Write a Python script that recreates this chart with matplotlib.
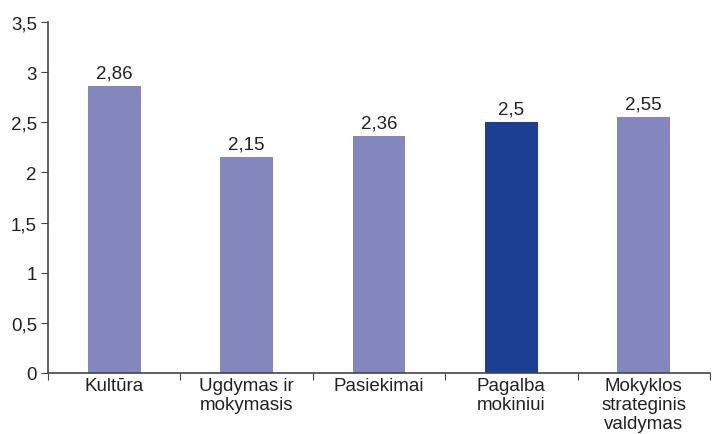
import matplotlib
matplotlib.use("Agg")
import matplotlib.pyplot as plt
import numpy as np

categories = ["Kultūra", "Ugdymas ir\nmokymasis", "Pasiekimai", "Pagalba\nmokiniui", "Mokyklos\nstrateginis\nvaldymas"]
values = [2.86, 2.15, 2.36, 2.5, 2.55]
labels = ["2,86", "2,15", "2,36", "2,5", "2,55"]
colors = ["#8387BE", "#8387BE", "#8387BE", "#1C3F94", "#8387BE"]
yticks = [0, 0.5, 1, 1.5, 2, 2.5, 3, 3.5]
yticklabels = ["0", "0,5", "1", "1,5", "2", "2,5", "3", "3,5"]

plt.rcParams['font.family'] = ['Liberation Sans', 'DejaVu Sans']
fs = 13.5
fig = plt.figure(figsize=(7.15, 4.35), dpi=100)
ax = fig.add_axes([48/715, 61/435, 662/715, 351/435])

x = np.arange(len(categories))
ax.bar(x, values, width=0.4, color=colors)
for xi, v, l in zip(x, values, labels):
    ax.text(xi, v + 0.05, l, ha='center', va='bottom', fontsize=fs, color='#222222')

ax.set_xlim(-0.5, len(categories) - 0.5)
ax.set_ylim(0, 3.5)
ax.set_yticks(yticks)
ax.set_yticklabels(yticklabels, fontsize=fs, color='#222222')
ax.set_xticks(np.arange(len(categories) + 1) - 0.5)
ax.set_xticklabels([])
ax.set_xticks(x, minor=True)
ax.set_xticklabels(categories, minor=True, fontsize=fs, color='#222222', linespacing=1.15)
ax.tick_params(axis='x', which='minor', length=0, pad=3)
ax.tick_params(axis='x', which='major', length=5, color='#444444', direction='out')
ax.tick_params(axis='y', length=5, color='#444444', direction='out', pad=3)
for s in ['top', 'right']:
    ax.spines[s].set_visible(False)
for s in ['left', 'bottom']:
    ax.spines[s].set_color('#444444')
    ax.spines[s].set_linewidth(1.2)

fig.savefig("out.png", dpi=100)
